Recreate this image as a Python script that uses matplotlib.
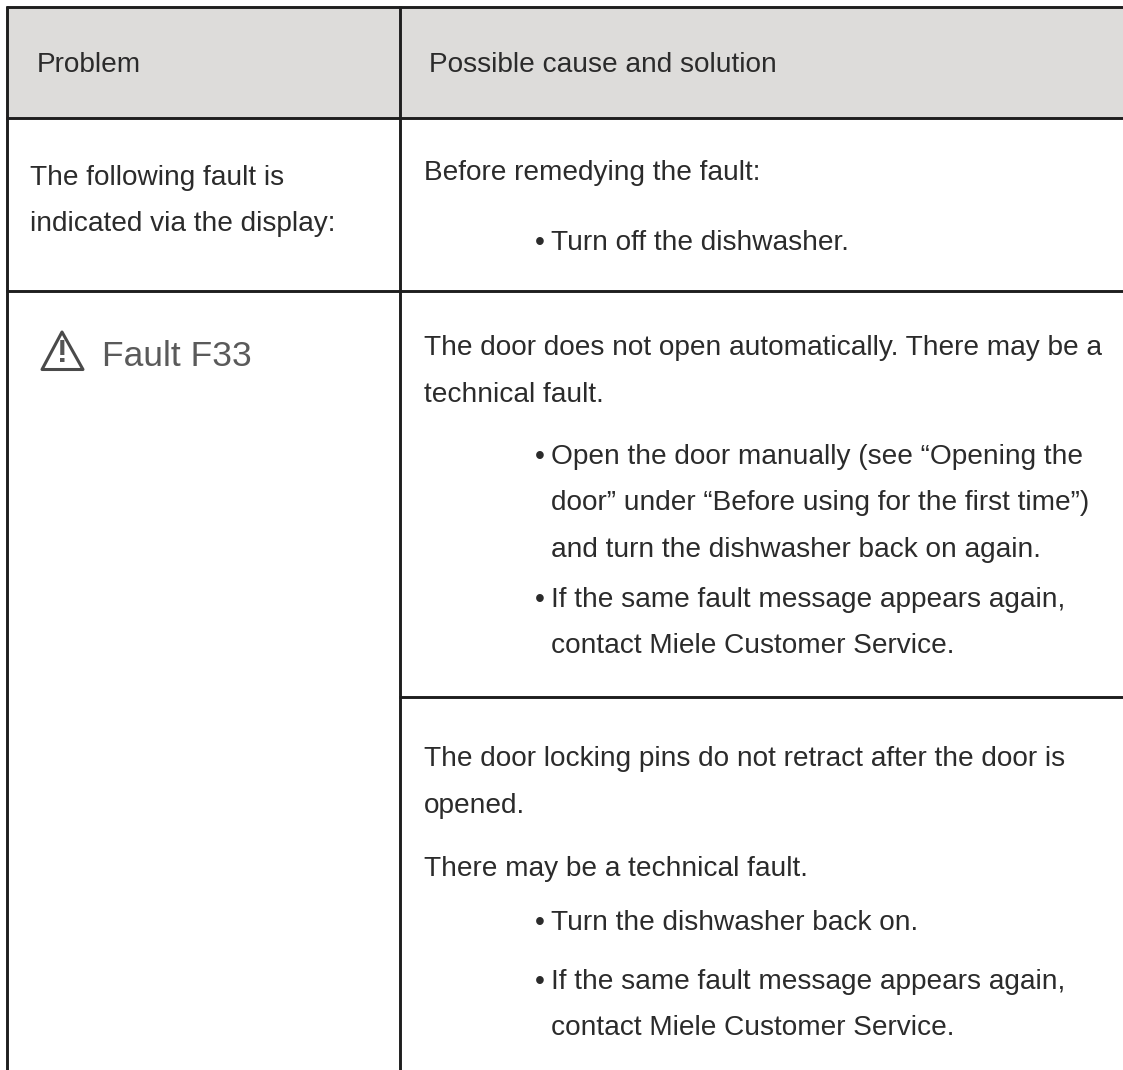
import matplotlib
matplotlib.use('Agg')
import matplotlib.pyplot as plt
from matplotlib.patches import Rectangle, Polygon

W, H = 1123, 1070

# table content
header_left = 'Problem'
header_right = 'Possible cause and solution'
left_lines = ['The following fault is', 'indicated via the display:']
fault_label = 'Fault F33'
right_lines = [
    (424, 171, 'Before remedying the fault:'),
    (424, 346, 'The door does not open automatically. There may be a'),
    (424, 393, 'technical fault.'),
    (551, 501, 'door” under “Before using for the first time”)'),
    (551, 548, 'and turn the dishwasher back on again.'),
    (551, 644, 'contact Miele Customer Service.'),
    (424, 757, 'The door locking pins do not retract after the door is'),
    (424, 804, 'opened.'),
    (424, 867, 'There may be a technical fault.'),
    (551, 1026, 'contact Miele Customer Service.'),
]
bullet_lines = [
    (241, 'Turn off the dishwasher.'),
    (455, 'Open the door manually (see “Opening the'),
    (598, 'If the same fault message appears again,'),
    (921, 'Turn the dishwasher back on.'),
    (980, 'If the same fault message appears again,'),
]

plt.rcParams['font.family'] = ['Liberation Sans', 'DejaVu Sans']

FS = 20.2
DY = 2.4
TXT = '#2b2b2b'
RULE = '#1e1e1e'
LW = 2.1

fig = plt.figure(figsize=(W / 100, H / 100), dpi=100)
ax = fig.add_axes([0, 0, 1, 1])
ax.set_xlim(0, W)
ax.set_ylim(H, 0)
ax.axis('off')

# grey header band
ax.add_patch(Rectangle((8, 8), W - 8, 110, facecolor='#dddcda', edgecolor='none'))

# table rules
for xs, ys in [([6, W], [7, 7]), ([6, W], [118, 118]), ([6, W], [290.6, 290.6]),
               ([399, W], [697.2, 697.2]), ([6.8, 6.8], [6, H]), ([399.8, 399.8], [6, H])]:
    ax.plot(xs, ys, color=RULE, lw=LW, solid_capstyle='butt')

# header text
ax.text(37, 63 + DY, header_left, fontsize=FS, color=TXT, va='center')
ax.text(429, 63 + DY, header_right, fontsize=FS, color=TXT, va='center')

# left column
ax.text(30, 176 + DY, left_lines[0], fontsize=FS, color=TXT, va='center')
ax.text(30, 222 + DY, left_lines[1], fontsize=FS, color=TXT, va='center')

# warning icon and fault text (screenshot of display)
ax.add_patch(Polygon([[62, 332], [42, 369.5], [83, 369.5]], closed=True, fill=False,
                     edgecolor='#4a4a4a', lw=2.2, joinstyle='round'))
ax.text(62, 354, '!', fontsize=23, fontweight='bold', color='#555555', ha='center', va='center')
ax.text(102, 356, fault_label, fontsize=25.5, color='#5a5a5a', va='center')

# right column
for x, y, s in right_lines:
    ax.text(x, y + DY, s, fontsize=FS, color=TXT, va='center')
for y, s in bullet_lines:
    ax.text(535, y + DY, '•', fontsize=FS, color=TXT, va='center')
    ax.text(551, y + DY, s, fontsize=FS, color=TXT, va='center')

fig.savefig('out.png', dpi=100)
